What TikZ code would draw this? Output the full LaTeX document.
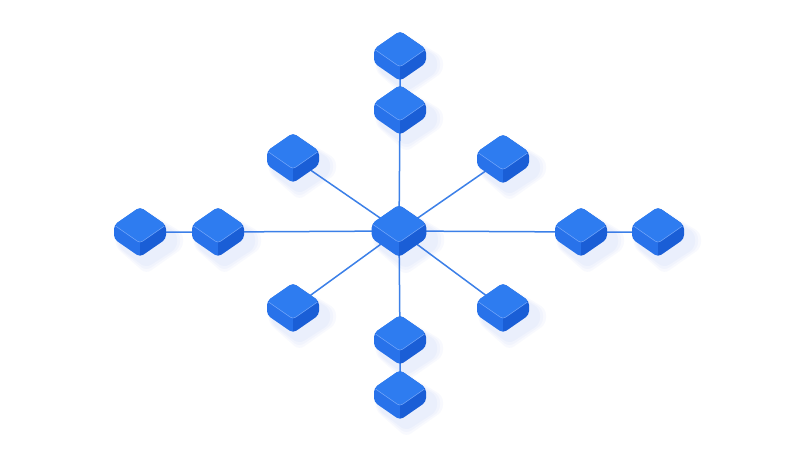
\documentclass[tikz,border=0pt]{standalone}
\usepackage{tikz}
\usetikzlibrary{calc}
\definecolor{topblue}{RGB}{46,124,240}
\definecolor{leftblue}{RGB}{40,114,234}
\definecolor{rightblue}{RGB}{26,94,214}
\definecolor{linkblue}{RGB}{60,128,232}
\definecolor{rimblue}{RGB}{118,168,250}
\definecolor{shadeblue}{RGB}{70,110,230}
\newcommand{\bw}{26}
\newcommand{\bh}{18}
\newcommand{\bd}{14}

\tikzset{
    link/.style = {draw=linkblue, line width=1.5pt},
    pics/block/.style = {code = {
        % soft shadow, falls to the lower right
        \foreach \g in {9,6,3}
            \fill[shadeblue, opacity=0.035, rounded corners=6pt]
                (6,-25+8-\g/2) -- (\bw+8+\g,-7+8) -- (\bw+8+\g,7+9) -- (6,25+8+\g)
                -- (-\bw+6-\g/2,7+8) -- (-\bw+6-\g/2,-7+8) -- cycle;
        \begin{scope}
            \clip[rounded corners=4pt] (0,-25) -- (\bw,-7) -- (\bw,7) -- (0,25)
                -- (-\bw,7) -- (-\bw,-7) -- cycle;
            \fill[leftblue] (-\bw-2,-30) rectangle (0,30);
            \fill[rightblue] (0,-30) rectangle (\bw+2,30);
        \end{scope}
        \fill[topblue, rounded corners=4pt] (0,-25) -- (\bw,-7) -- (0,11) -- (-\bw,-7) -- cycle;
        \draw[rimblue, line width=0.5pt, rounded corners=3pt]
            (-\bw+1.5,-6) -- (0,11) -- (\bw-1.5,-6);
    }}
}

\begin{document}
\begin{tikzpicture}[x=1pt, y=-1pt]
    \useasboundingbox[fill=white] (0,0) rectangle (800,450);
    %\draw[help lines, step=50] (0,0) grid (800,450);
    \coordinate (c) at (399,231);

    \coordinate (t1) at (400,56);
    \coordinate (t2) at (400,110);
    \coordinate (b1) at (400,340);
    \coordinate (b2) at (400,395);

    \coordinate (l1) at (140,232);
    \coordinate (l2) at (218,232);
    \coordinate (r1) at (581,232);
    \coordinate (r2) at (658,232);

    \coordinate (ul) at (293,158);
    \coordinate (ur) at (503,159);
    \coordinate (dl) at (293,308);
    \coordinate (dr) at (503,308);

    \draw[link] (c) -- (t2) -- (t1);
    \draw[link] (c) -- (b1) -- (b2);
    \draw[link] (c) -- (l2) -- (l1);
    \draw[link] (c) -- (r1) -- (r2);
    \draw[link] (c) -- (ul);
    \draw[link] (c) -- (ur);
    \draw[link] (c) -- (dl);
    \draw[link] (c) -- (dr);

    \foreach \v in {t1,t2,ul,ur,l1,l2,r1,r2,dl,dr,b1,b2}
        \pic at (\v) {block};
    \pic[scale=1.05] at (c) {block};
\end{tikzpicture}
\end{document}
